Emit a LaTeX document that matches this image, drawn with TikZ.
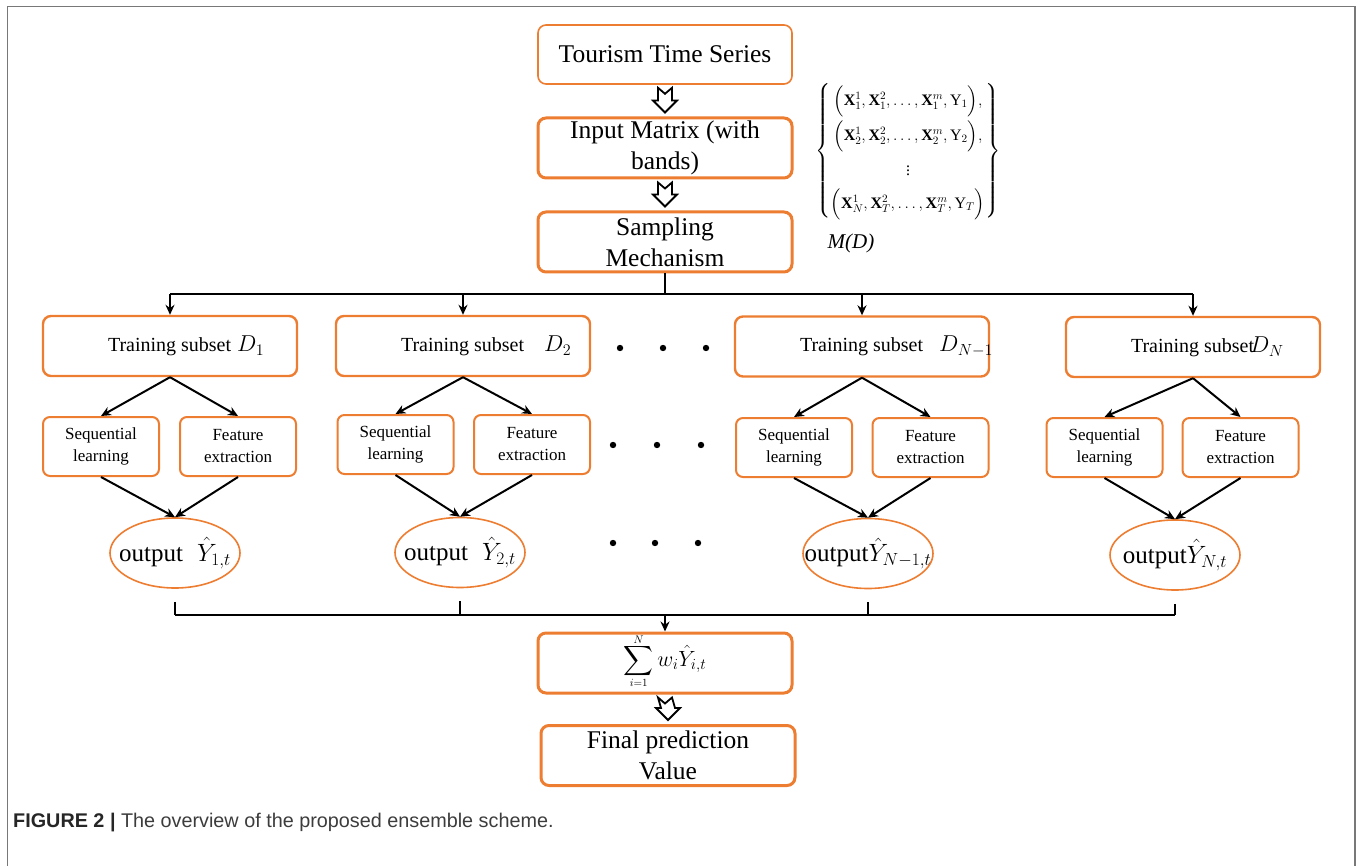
\RequirePackage{fix-cm}
\documentclass[tikz,border=0pt]{standalone}
\usepackage{amsmath}
\usepackage{fontspec}
\setmainfont{Liberation Serif}
\newfontfamily\capfont{Liberation Sans}
\usetikzlibrary{arrows.meta, shapes.geometric, positioning, calc}
\definecolor{boxorange}{RGB}{237,125,49}
\definecolor{framegray}{RGB}{120,120,120}
\definecolor{captext}{RGB}{60,60,60}

\newcommand{\trainlabel}[2]{\makebox[254pt][l]{\hspace*{65pt}Training subset\hspace{#1}{\fontsize{23}{24}\selectfont$#2$}}}
\newcommand{\sumstack}{\mathop{\vcenter{\offinterlineskip\halign{\hfil##\hfil\cr
    $\scriptscriptstyle N$\cr\noalign{\kern1pt}$\displaystyle\sum$\cr\noalign{\kern2pt}$\scriptscriptstyle i=1$\cr}}}}
\newcommand{\hollowdown}[2]{%
    \path ($(#1.south)+(0,3)$) coordinate (ht) ($(#2.north)-(0,4)$) coordinate (hb);
    \draw[hollow] ($(ht)+(-7,0)$) -- ($(ht)+(0,6)$) -- ($(ht)+(7,0)$)
        -- ($(hb)+(7,-12)$) -- ($(hb)+(12,-12)$) -- (hb)
        -- ($(hb)+(-12,-12)$) -- ($(hb)+(-7,-12)$) -- cycle;
}

\begin{document}
\begin{tikzpicture}[x=1pt, y=-1pt,
    flowbox/.style={rectangle, rounded corners=8pt, draw=boxorange, line width=3pt, fill=white,
        minimum width=254pt, minimum height=60pt, align=center, inner sep=1pt,
        font=\fontsize{25.5}{31}\selectfont},
    subbox/.style={rectangle, rounded corners=8pt, draw=boxorange, line width=2.4pt,
        minimum width=254pt, minimum height=60pt, inner xsep=0pt,
        font=\fontsize{20}{24}\selectfont},
    learnbox/.style={rectangle, rounded corners=7pt, draw=boxorange, line width=2pt,
        minimum width=116pt, minimum height=59pt, align=center, inner sep=1pt,
        font=\fontsize{17}{22}\selectfont},
    outell/.style={ellipse, draw=boxorange, line width=1.6pt, minimum width=130pt,
        minimum height=70pt, inner sep=0pt, font=\fontsize{25}{30}\selectfont},
    line/.style={line width=2pt, black},
    arrow/.style={-{Stealth[length=10pt, width=9pt]}, line width=2pt, black},
    hollow/.style={line width=1.8pt, black, fill=white, line join=miter},
    dot/.style={black}
]
    \useasboundingbox (0,0) rectangle (1357,866);
    \draw[framegray, line width=1.5pt] (7.5,866) -- (7.5,6.5) -- (1355,6.5) -- (1355,866);

    \node[flowbox, line width=1.6pt, minimum height=59pt] (tts) at (665,54.5) {Tourism Time Series};
    \node[flowbox] (inmat) at (665,148) {Input Matrix (with\\bands)};
    \node[flowbox] (samp)  at (665,242) {Sampling\\Mechanism};

    \hollowdown{tts}{inmat}
    \hollowdown{inmat}{samp}

    \node[font=\fontsize{16}{19}\selectfont] (mat) at (908,151)
        {\renewcommand{\arraystretch}{1.75}$\left\{\begin{array}{@{}c@{}}
            \Bigl(\mathbf{X}_1^1,\mathbf{X}_1^2,\ldots,\mathbf{X}_1^m,\mathrm{Y}_1\Bigr),\\
            \Bigl(\mathbf{X}_2^1,\mathbf{X}_2^2,\ldots,\mathbf{X}_2^m,\mathrm{Y}_2\Bigr),\\
            \vdots\\
            \Bigl(\mathbf{X}_N^1,\mathbf{X}_T^2,\ldots,\mathbf{X}_T^m,\mathrm{Y}_T\Bigr)
        \end{array}\right\}$};
    \node[font=\fontsize{21}{24}\selectfont\itshape] (md) at (851,243) {M(D)};

    % training subsets
    \node[subbox] (sub1) at (170,346)  {\trainlabel{6pt}{D_{1}}};
    \node[subbox] (sub2) at (463,346)  {\trainlabel{20pt}{D_{2}}};
    \node[subbox] (subM) at (862,346.5){\trainlabel{16pt}{D_{N-1}}};
    \node[subbox] (subN) at (1193,347) {\trainlabel{-4pt}{D_{N}}};

    \node[learnbox] (seq1)  at (101,446.5)   {Sequential\\learning};
    \node[learnbox] (feat1) at (238,446.5)   {Feature\\extraction};
    \node[learnbox] (seq2)  at (395.5,444.5) {Sequential\\learning};
    \node[learnbox] (feat2) at (532,444.5)   {Feature\\extraction};
    \node[learnbox] (seqM)  at (794,447.5)   {Sequential\\learning};
    \node[learnbox] (featM) at (930.5,447.5) {Feature\\extraction};
    \node[learnbox] (seqN)  at (1104.5,447.5){Sequential\\learning};
    \node[learnbox] (featN) at (1240.5,447.5){Feature\\extraction};

    \node[outell] (out1) at (175,553)   {\makebox[0pt]{output\hspace{14pt}$\hat{Y}_{1,t}$}};
    \node[outell] (out2) at (460,552.5) {\makebox[0pt]{output\hspace{14pt}$\hat{Y}_{2,t}$}};
    \node[outell] (outM) at (868,553.5) {\makebox[0pt]{output$\hat{Y}_{N-1,t}$}};
    \node[outell] (outN) at (1175,555)  {\makebox[0pt]{output$\hat{Y}_{N,t}$}};

    \node[flowbox, font=\fontsize{22}{26}\selectfont] (sum) at (665,663)
        {\raisebox{-7pt}{\smash{$\sumstack w_i\hat{Y}_{i,t}$}}};
    \node[flowbox] (final) at (668,755.5) {Final prediction\\Value};
    \hollowdown{sum}{final}

    % distribution bus
    \draw[line] (samp.south) -- (samp.south |- 0,294);
    \draw[line] (sub1.north |- 0,294) -- (subN.north |- 0,294);
    \foreach \s in {sub1,sub2,subM,subN}
        \draw[arrow] (\s.north |- 0,294) -- (\s.north);

    \draw[arrow] (sub1.south) -- (seq1.north);
    \draw[arrow] (sub1.south) -- (feat1.north);
    \draw[arrow] (sub2.south) -- (seq2.north);
    \draw[arrow] (sub2.south) -- (feat2.north);
    \draw[arrow] (subM.south) -- (seqM.north);
    \draw[arrow] (subM.south) -- (featM.north);
    \draw[arrow] (subN.south) -- (seqN.north);
    \draw[arrow] (subN.south) -- (featN.north);

    \draw[arrow] (seq1.south) -- (out1.north);
    \draw[arrow] (feat1.south) -- (out1.north);
    \draw[arrow] (seq2.south) -- (out2.north);
    \draw[arrow] (feat2.south) -- (out2.north);
    \draw[arrow] (seqM.south) -- (outM.north);
    \draw[arrow] (featM.south) -- (outM.north);
    \draw[arrow] (seqN.south) -- (outN.north);
    \draw[arrow] (featN.south) -- (outN.north);

    % collecting bus
    \foreach \o in {out1,out2,outM,outN}
        \draw[line] ($(\o.south)+(0,13)$) -- (\o.south |- 0,615);
    \draw[line] (out1.south |- 0,615) -- (outN.south |- 0,615);
    \draw[arrow] (sum.north |- 0,615) -- (sum.north);

    % ellipsis dots
    \foreach \x/\y in {620/348, 663/348, 706/348, 613/445, 657/445, 701/445, 613/543, 655/543, 698/543}
        \fill[dot] (\x,\y) circle[radius=3.2pt];

    \node[anchor=base west, inner sep=0pt, text=captext, font=\capfont\fontsize{19.8}{22}\selectfont]
        (cap) at (13,827) {\textbf{\color{black!85}FIGURE 2 |} The overview of the proposed ensemble scheme.};
\end{tikzpicture}
\end{document}
